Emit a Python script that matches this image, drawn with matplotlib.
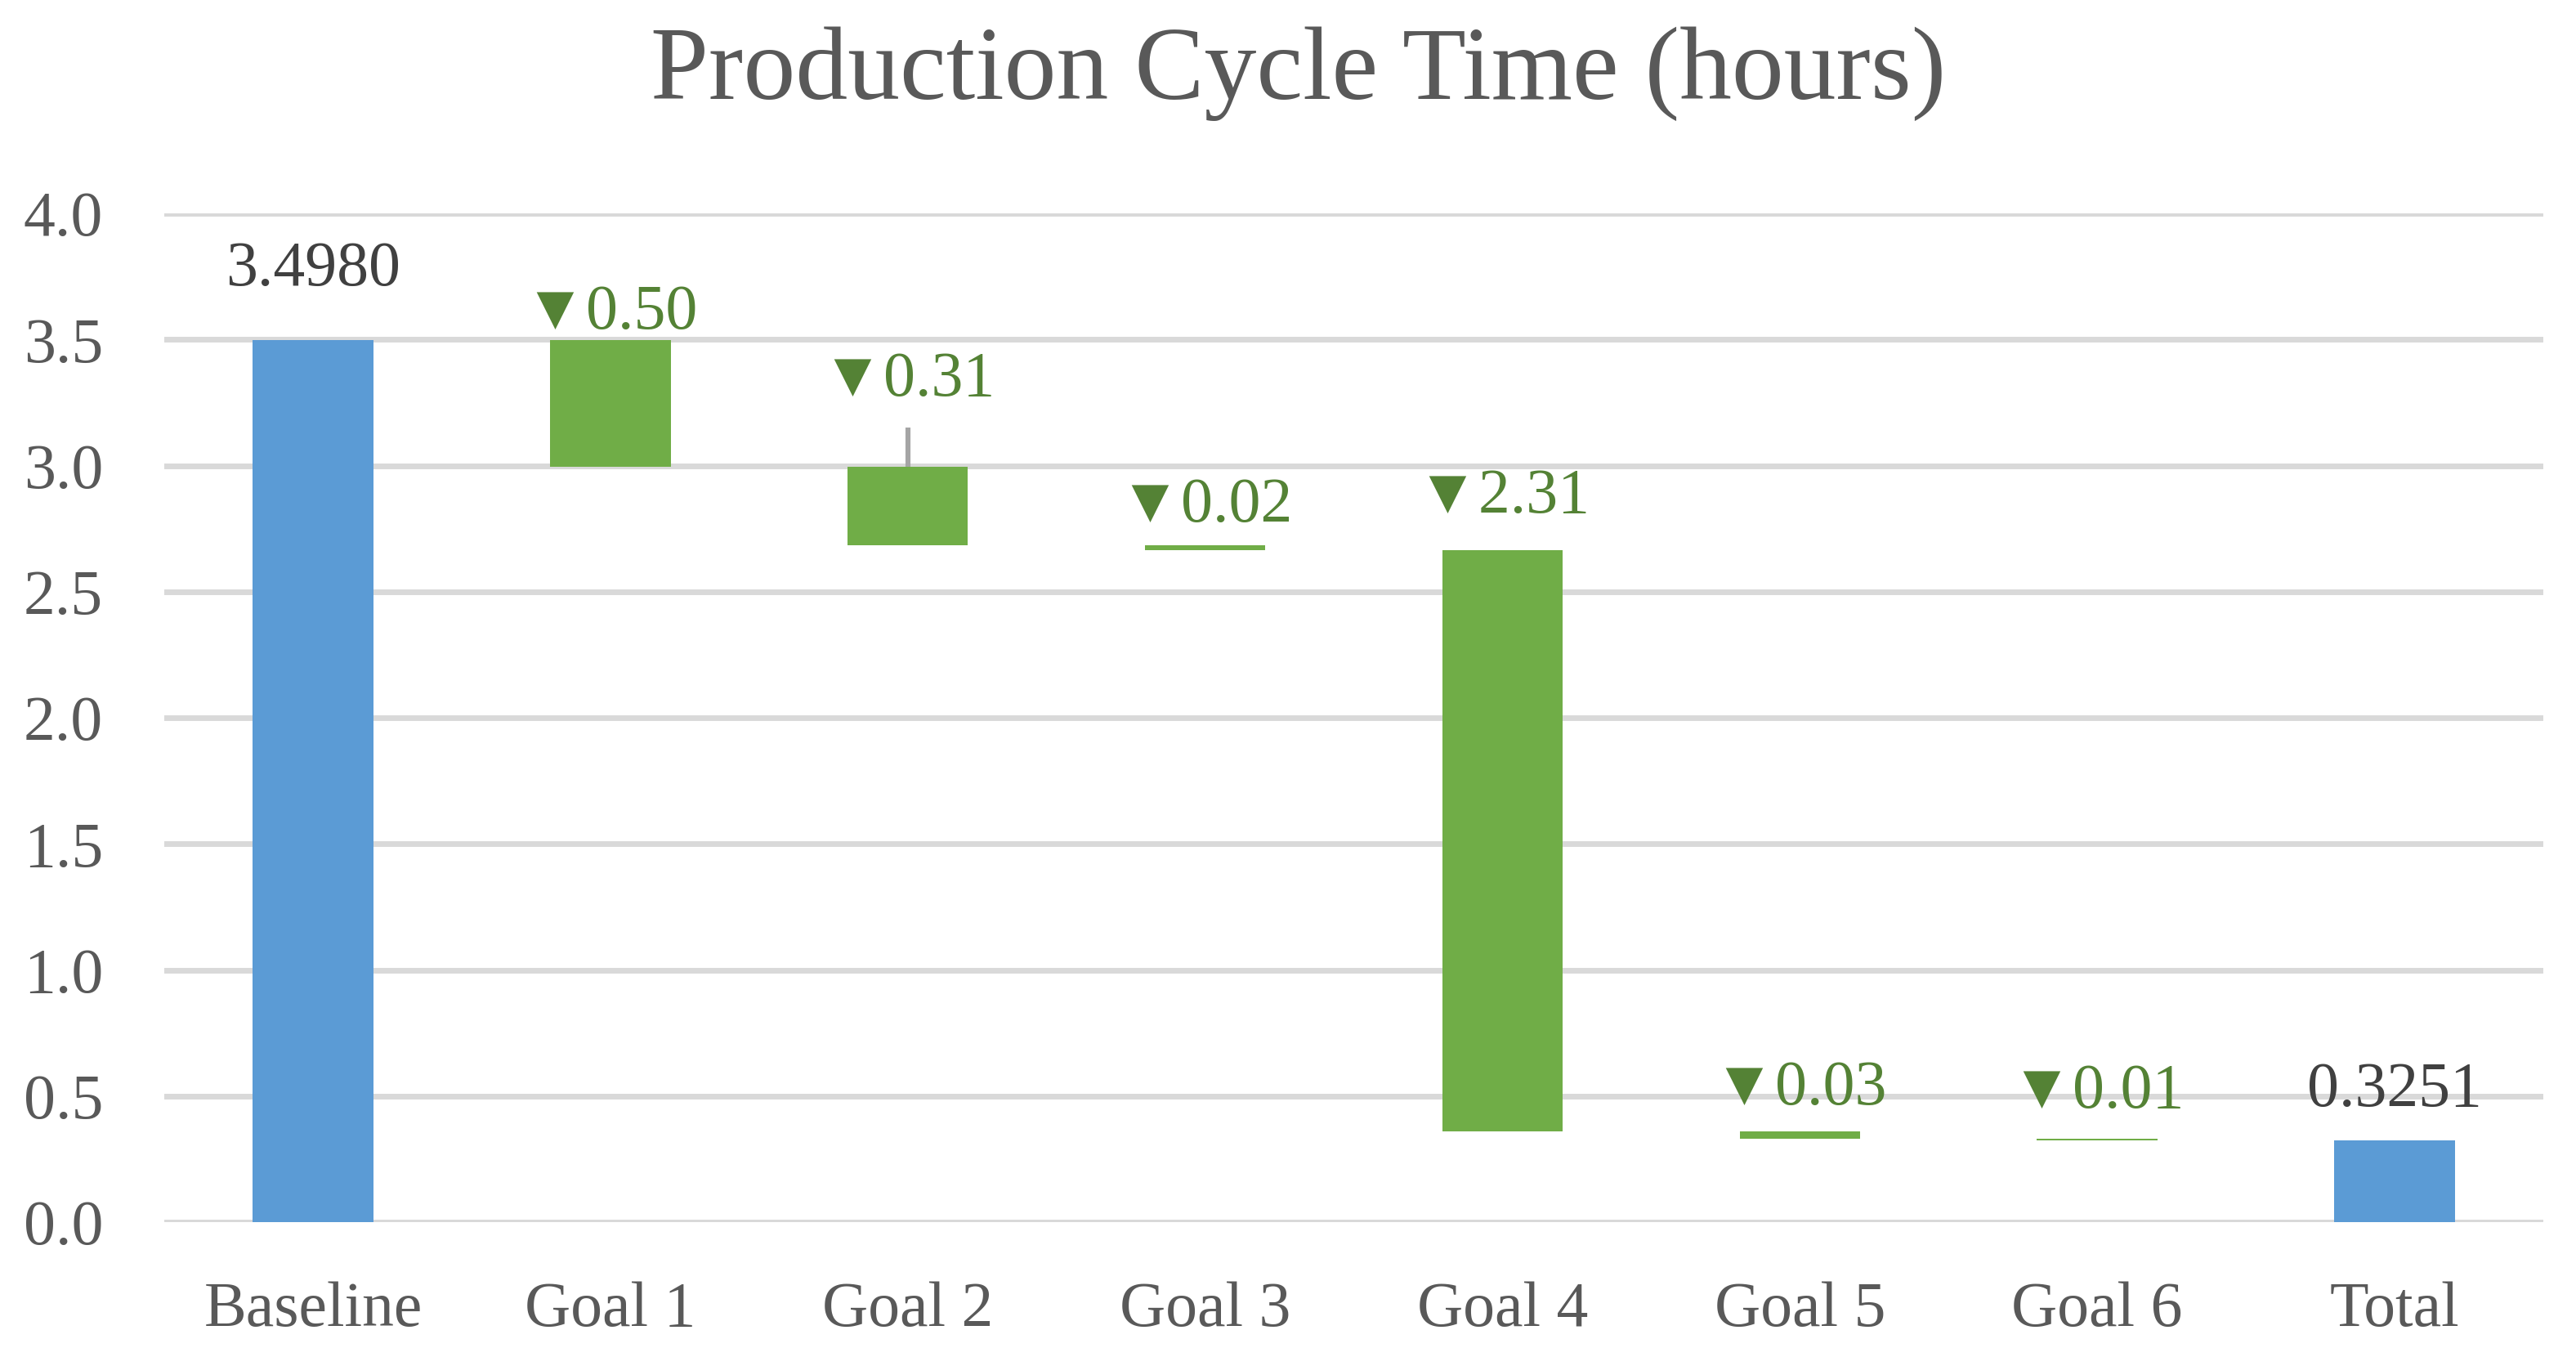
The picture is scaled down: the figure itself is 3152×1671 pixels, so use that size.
import numpy as np
import matplotlib
matplotlib.use('Agg')
import matplotlib.pyplot as plt

# data
categories = ['Baseline', 'Goal 1', 'Goal 2', 'Goal 3', 'Goal 4', 'Goal 5', 'Goal 6', 'Total']
baseline = 3.4980
total = 0.3251
changes = [0.504, 0.311, 0.017, 2.306, 0.029, 0.006]   # reductions per goal
goal2_leader_end = 3.15

blue = '#5B9BD5'
green = '#70AD47'
dark_green = '#548235'

plt.rcParams['font.family'] = ['Liberation Serif', 'DejaVu Sans']

fig = plt.figure(figsize=(15.76, 8.355), dpi=200)
ax = fig.add_axes([0.0638, 0.1053, 0.9235, 0.7385])

x = np.arange(len(categories))
w = 0.405

# running levels of the waterfall
tops = [baseline]
bottoms = [0]
level = baseline
for c in changes:
    tops.append(level)
    bottoms.append(level - c)
    level = level - c
tops.append(total)
bottoms.append(0)
heights = np.array(tops) - np.array(bottoms)
colors = [blue] + [green] * len(changes) + [blue]

ax.bar(x, heights, bottom=bottoms, width=w, color=colors, zorder=3)

# leader line above Goal 2
ax.plot([2, 2], [tops[2], goal2_leader_end], color='#A5A5A5', lw=2.2, zorder=2, solid_capstyle='butt')

# labels (offsets in pixels above the bar top)
pads = [67, 14, 39, 29, 46, 33, 38, 42]
for i in range(len(categories)):
    y0 = tops[i]
    if i == 2:
        y0 = goal2_leader_end
    if i == 0:
        txt, col = f'{baseline:.4f}', '#404040'
    elif i == len(categories) - 1:
        txt, col = f'{total:.4f}', '#404040'
    else:
        txt, col = f'\u25bc{changes[i - 1]:.2f}', dark_green
    ax.annotate(txt, (x[i], y0), xytext=(0, pads[i]), textcoords='offset pixels',
                ha='center', va='baseline', fontsize=28, color=col, zorder=4)

ax.set_xlim(-0.5, 7.5)
ax.set_ylim(0, 4)
ax.set_yticks(np.arange(0, 4.01, 0.5))
ax.yaxis.set_major_formatter(matplotlib.ticker.FormatStrFormatter('%.1f'))
ax.set_xticks(x)
ax.set_xticklabels(categories)
ax.tick_params(axis='both', length=0, labelsize=28, labelcolor='#595959')
ax.tick_params(axis='y', pad=27)
ax.tick_params(axis='x', pad=26)
ax.grid(axis='y', color='#D9D9D9', lw=2.5, zorder=0)
for s in ax.spines.values():
    s.set_visible(False)
ax.set_axisbelow(True)

fig.text(0.504, 0.946, 'Production Cycle Time (hours)', ha='center', va='center',
         fontsize=46, color='#595959')

fig.savefig('out.png', dpi=200)
